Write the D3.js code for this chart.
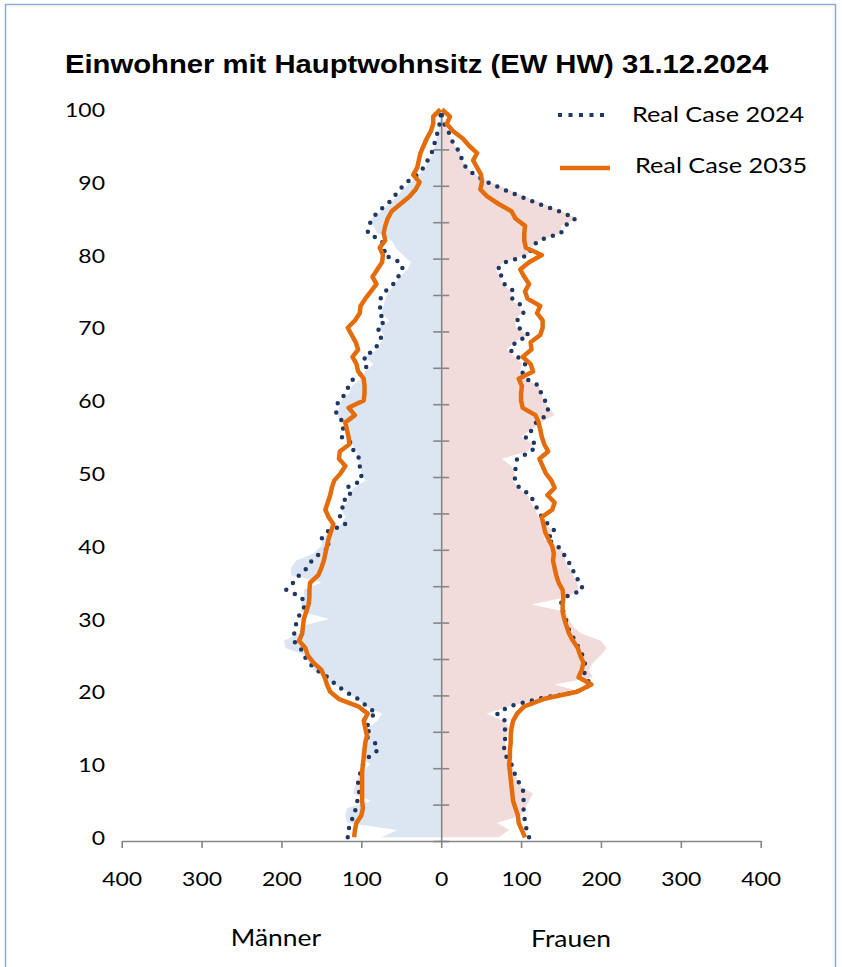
<!DOCTYPE html>
<html>
<head>
<meta charset="utf-8">
<script src="https://cdn.jsdelivr.net/npm/d3@7"></script>
<style>
  body { margin: 0; background: #fff; }
  text { fill: #000; }
</style>
</head>
<body>
<script>
// values per age 0..100 (persons)
const menArea = [75,55,118,120,118,88,110,108,105,100,89,100,100,98,95,92,80,74,95,105,118,135,148,160,165,170,195,197,178,176,140,176,175,172,172,150,188,188,182,160,150,148,140,125,120,125,118,115,110,95,100,100,105,105,112,120,115,125,130,128,125,115,112,100,95,85,95,80,75,72,78,65,75,72,70,65,58,52,42,38,48,57,62,80,85,87,75,65,55,48,38,28,20,15,10,8,6,3,2,1,0];
const womenArea = [72,85,70,100,105,110,115,100,95,92,88,80,82,80,82,85,78,57,85,125,175,142,190,185,190,200,207,200,175,165,160,155,113,158,172,170,165,160,155,155,145,128,140,130,122,118,112,108,96,90,92,88,76,108,115,100,112,125,142,135,128,125,122,105,98,102,92,82,92,108,94,92,100,98,86,88,76,74,68,78,108,112,122,150,150,170,150,128,106,84,62,44,32,26,24,17,12,9,4,1,0];
const men2024 = [117,116,114,109,107,105,102,105,103,101,98,91,79,83,96,87,99,81,93,104,120,132,142,156,166,172,176,185,184,182,181,174,170,175,194,185,178,168,162,152,138,150,143,120,127,123,125,113,119,100,100,102,102,110,110,125,123,122,131,132,128,119,116,110,97,92,97,83,78,74,80,70,78,76,76,70,60,54,48,51,72,70,75,92,91,86,79,67,59,52,43,30,22,17,12,9,7,4,2,1,0];
const women2024 = [110,107,105,104,103,103,104,100,95,91,88,82,78,81,79,80,80,70,85,120,170,188,180,179,180,177,172,168,162,158,156,153,149,155,177,175,166,165,158,153,146,132,143,134,126,121,116,112,98,92,93,93,95,113,119,105,114,119,132,134,130,125,123,106,101,105,96,86,93,110,97,95,103,101,89,91,79,76,70,80,110,113,122,150,155,168,148,122,100,78,58,42,31,26,24,17,12,9,4,1,0];
const men2035 = [109,108,106,100,98,99,99,99,99,99,98,97,96,95,93,95,97,92,104,128,139,143,146,150,160,167,170,178,174,173,172,169,166,165,165,164,154,150,147,145,143,141,138,135,141,145,142,139,137,134,126,120,128,127,115,116,118,120,108,116,97,96,96,97,104,106,111,104,107,112,117,108,102,101,95,88,81,86,80,74,73,77,70,72,70,67,62,51,40,32,27,35,30,28,26,22,18,13,10,10,1];
const women2035 = [105,101,97,96,93,90,89,88,87,86,85,86,86,87,87,88,90,95,104,128,170,188,172,176,178,174,171,165,160,157,154,152,152,153,152,147,144,142,140,141,139,134,130,128,126,139,142,133,142,138,131,127,123,134,129,126,124,122,118,102,100,100,101,97,115,112,102,113,112,124,127,127,120,124,108,105,110,104,99,110,126,106,104,104,105,93,88,72,58,49,51,50,45,40,45,35,27,15,7,11,1];

const xTicks = [-400, -300, -200, -100, 0, 100, 200, 300, 400];
const yTicks = [0, 10, 20, 30, 40, 50, 60, 70, 80, 90, 100];
const legendLabels = ["Real Case 2024", "Real Case 2035"];
const titleText = "Einwohner mit Hauptwohnsitz (EW HW) 31.12.2024";

const width = 842, height = 967;
const sx = 1.15; // the original picture is a bit stretched sideways
const bodyFont = 'Lato, "Open Sans", sans-serif';

const svg = d3.select('body').append('svg')
  .attr('width', width)
  .attr('height', height);

// chart frame
svg.append('rect')
  .attr('x', 5.5).attr('y', 4.5)
  .attr('width', 830).attr('height', 980)
  .attr('fill', 'none')
  .attr('stroke', '#8eaadb')
  .attr('stroke-width', 1.5);

const x = d3.scaleLinear().domain([-400, 400]).range([121.7, 760.7]);
const y = d3.scaleLinear().domain([0, 100]).range([841, 113]);
const ya = i => y(i + 0.5);

// shaded areas
const area = d3.area().y((d, i) => ya(i)).x0(x(0));
svg.append('path')
  .datum(menArea)
  .attr('d', area.x1(d => x(-d)))
  .attr('fill', '#dce6f2');
svg.append('path')
  .datum(womenArea)
  .attr('d', area.x1(d => x(d)))
  .attr('fill', '#f2dcdb');

// center axis with crossing ticks
const gc = svg.append('g')
  .attr('transform', `translate(${x(0)},0)`)
  .call(d3.axisLeft(y).tickValues(d3.range(0, 101, 5)).tickSizeInner(8).tickSizeOuter(0).tickFormat(''));
gc.selectAll('.tick line').attr('x2', -8).attr('x1', 8);
gc.selectAll('line, path').attr('stroke', '#868686').attr('stroke-width', 1.6);

// bottom axis
const gx = svg.append('g')
  .attr('transform', `translate(0,${y(0)})`)
  .call(d3.axisBottom(x).tickValues(xTicks).tickSizeInner(7).tickSizeOuter(0).tickFormat(d => Math.abs(d)));
gx.selectAll('line, path').attr('stroke', '#868686').attr('stroke-width', 1.6);
gx.selectAll('text')
  .attr('y', 31)
  .style('font-size', '20px')
  .style('font-family', bodyFont)
  .attr('fill', '#000')
  .attr('transform', `scale(${sx},1)`);

// age labels
const gl = svg.append('g')
  .attr('transform', 'translate(105,-3)')
  .call(d3.axisLeft(y).tickValues(yTicks).tickSize(0).tickPadding(0));
gl.select('.domain').remove();
gl.selectAll('text')
  .style('font-size', '20px')
  .style('font-family', bodyFont)
  .attr('fill', '#000')
  .attr('transform', `scale(${sx},1)`);

// lines
const line = d3.line().y((d, i) => ya(i));
const dotted = sel => sel.attr('fill', 'none')
  .attr('stroke', '#1f3864')
  .attr('stroke-width', 4.5)
  .attr('stroke-linecap', 'round')
  .attr('stroke-dasharray', '0 9.5');
const solid = sel => sel.attr('fill', 'none')
  .attr('stroke', '#e46c0a')
  .attr('stroke-width', 4.5)
  .attr('stroke-linejoin', 'round');

svg.append('path').datum(men2024).attr('d', line.x(d => x(-d))).call(dotted);
svg.append('path').datum(women2024).attr('d', line.x(d => x(d))).call(dotted);
svg.append('path').datum(men2035).attr('d', line.x(d => x(-d))).call(solid);
svg.append('path').datum(women2035).attr('d', line.x(d => x(d))).call(solid);

// legend
svg.append('line')
  .attr('x1', 558).attr('x2', 606).attr('y1', 115).attr('y2', 115)
  .attr('stroke', '#1f3864').attr('stroke-width', 4)
  .attr('stroke-dasharray', '4 6.5');
svg.append('line')
  .attr('x1', 560).attr('x2', 610).attr('y1', 168).attr('y2', 168)
  .attr('stroke', '#e46c0a').attr('stroke-width', 4.5);
svg.append('text')
  .attr('transform', `translate(632,122) scale(${sx},1)`)
  .style('font-family', bodyFont)
  .style('font-size', '22px')
  .text(legendLabels[0]);
svg.append('text')
  .attr('transform', `translate(635,173) scale(${sx},1)`)
  .style('font-family', bodyFont)
  .style('font-size', '22px')
  .text(legendLabels[1]);

// title
svg.append('text')
  .attr('transform', `translate(65,73) scale(1.17,1)`)
  .style('font-family', '"Liberation Sans", Arial, sans-serif')
  .style('font-weight', 'bold')
  .style('font-size', '25px')
  .text(titleText);

// side captions
svg.append('text')
  .attr('transform', `translate(276,946) scale(${sx},1)`)
  .attr('text-anchor', 'middle')
  .style('font-family', bodyFont)
  .style('font-size', '23px')
  .text('Männer');
svg.append('text')
  .attr('transform', `translate(571,947) scale(${sx},1)`)
  .attr('text-anchor', 'middle')
  .style('font-family', bodyFont)
  .style('font-size', '23px')
  .text('Frauen');
</script>
</body>
</html>
